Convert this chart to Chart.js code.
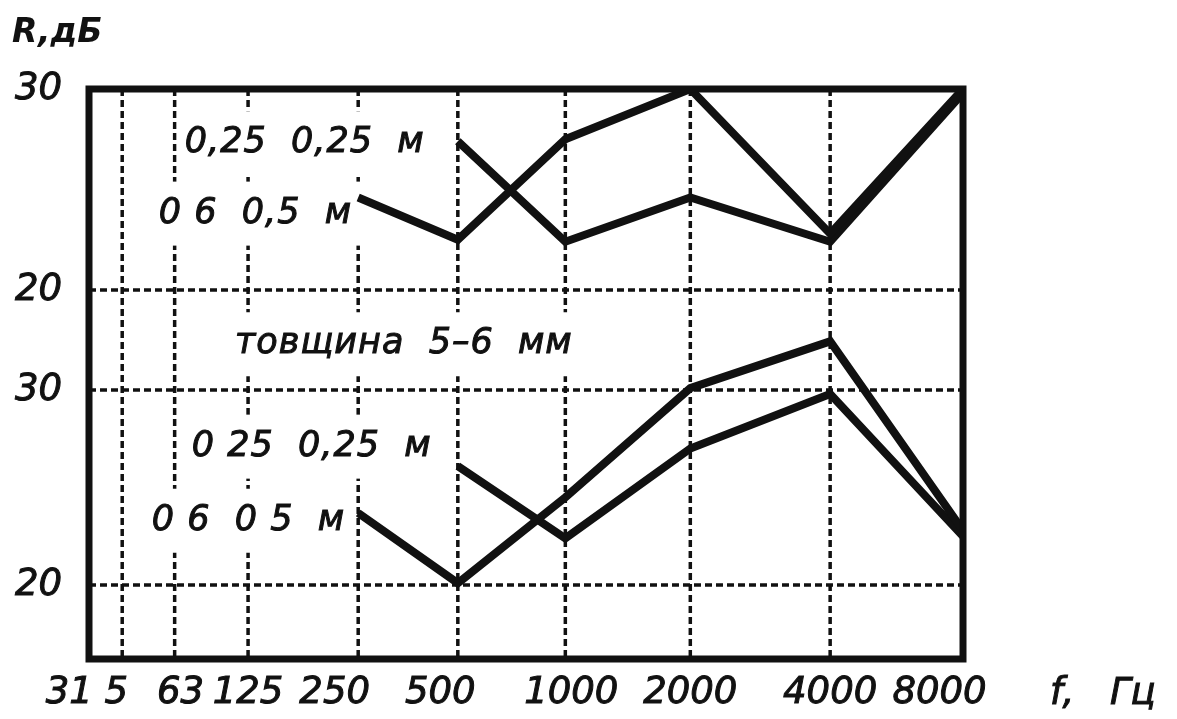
<!DOCTYPE html>
<html lang="uk">
<head>
<meta charset="utf-8">
<title>R, дБ</title>
<script src="https://cdn.jsdelivr.net/npm/chart.js@4.4.0/dist/chart.umd.min.js"></script>
<style>
  html, body { margin: 0; padding: 0; background: #fff; }
  #wrap { position: relative; width: 1177px; height: 719px; }
</style>
</head>
<body>
<div id="wrap"><canvas id="chart" width="1177" height="719"></canvas></div>
<script>
// частоти (Гц) - підписи осі x
const freqLabels = ['31 5', '63', '125', '250', '500', '1000', '2000', '4000', '8000'];
// місце кожної частоти на осі x, % ширини поля (в оригіналі вісь нерівномірна)
const freqPos = [3.8, 9.8, 18.2, 30.8, 42.2, 54.5, 68.8, 84.8, 100];

// верхній графік, R дБ
const top06 = [null, null, null, 24.6, 22.5, 27.5, 30.0, 22.8, 30.0];   // 0,6 x 0,5 м
const top025 = [null, null, null, null, 27.4, 22.4, 24.6, 22.4, 29.8];  // 0,25 x 0,25 м
// нижній графік (товщина 5-6 мм), R дБ
const bot06 = [null, null, null, 23.7, 20.1, 24.5, 30.1, 32.5, 22.8];
const bot025 = [null, null, null, null, 26.1, 22.4, 27.0, 29.8, 22.5];

// поділки осі y для кожного з двох графіків
const yTickValues = [30, 20];
const yTickLabels = ['30', '20'];

// діапазони двох осей y (верхня і нижня частини рисунка)
const TOP_MIN = 1.64, TOP_MAX = 30;
const BOT_MIN = 16.21, BOT_MAX = 45.44;
const botToTop = v => TOP_MIN + (v - BOT_MIN) / (BOT_MAX - BOT_MIN) * (TOP_MAX - TOP_MIN);

const FONT = '"DejaVu Sans", sans-serif';
const INK = '#111';

// підписи всередині поля (з білою підкладкою)
const notes = [
    { text: '0,25  0,25  м', scale: 'y', x: 38.4, y: 27.3, align: 'right' },
    { text: '0 6  0,5  м', scale: 'y', x: 30.1, y: 23.8, align: 'right' },
    { text: 'товщина  5–6  мм', scale: 'y', x: 16.7, y: 17.3, align: 'left' },
    { text: '0 25  0,25  м', scale: 'y2', x: 39.2, y: 27.1, align: 'right' },
    { text: '0 6  0 5  м', scale: 'y2', x: 29.3, y: 23.3, align: 'right' }
];

// зсув підписів осі x (у пробілах): <0 - ліворуч, >0 - праворуч
const labelNudge = [-6, 1, 0, -4, -3, 1, 0, 0, -4];

const toPoints = arr => arr.map((v, i) => ({ x: freqPos[i], y: v }));

// сітка пунктиром + підписи
const gridPlugin = {
    id: 'dashGrid',
    beforeDatasetsDraw(chart) {
        const { ctx, chartArea: a, scales } = chart;
        ctx.save();
        ctx.strokeStyle = INK;
        ctx.lineWidth = 3.5;
        ctx.setLineDash([7, 4]);
        scales.x.ticks.forEach(t => {
            const px = scales.x.getPixelForValue(t.value);
            ctx.beginPath();
            ctx.moveTo(px, a.top);
            ctx.lineTo(px, a.bottom);
            ctx.stroke();
        });
        scales.y.ticks.forEach(t => {
            const py = scales.y.getPixelForValue(t.value);
            ctx.beginPath();
            ctx.moveTo(a.left, py);
            ctx.lineTo(a.right, py);
            ctx.stroke();
        });
        ctx.setLineDash([]);

        ctx.font = 'italic 35px ' + FONT;
        ctx.letterSpacing = '1px';
        ctx.textBaseline = 'middle';
        ctx.lineWidth = 1;
        notes.forEach(n => {
            const px = scales.x.getPixelForValue(n.x);
            const py = scales[n.scale].getPixelForValue(n.y);
            const w = ctx.measureText(n.text).width;
            const x0 = n.align === 'right' ? px - w : px;
            ctx.fillStyle = '#fff';
            ctx.fillRect(x0 - 8, py - 32, w + 16, 64);
            ctx.fillStyle = INK;
            ctx.textAlign = 'left';
            ctx.fillText(n.text, x0, py);
            ctx.strokeText(n.text, x0, py);
        });
        ctx.restore();
    },
    afterDatasetsDraw(chart) {
        const { ctx, chartArea: a } = chart;
        ctx.save();
        ctx.strokeStyle = INK;
        ctx.lineWidth = 7;
        ctx.strokeRect(a.left, a.top, a.right - a.left, a.bottom - a.top);
        ctx.restore();
    },
    afterDraw(chart) {
        const { ctx, chartArea: a } = chart;
        ctx.save();
        ctx.fillStyle = INK;
        ctx.textBaseline = 'middle';
        ctx.textAlign = 'left';
        ctx.font = 'italic bold 33px ' + FONT;
        ctx.fillText('R,дБ', 12, 33);
        ctx.font = 'italic 37px ' + FONT;
        ctx.strokeStyle = INK;
        ctx.lineWidth = 1;
        ctx.fillText('f,', a.right + 87, 694);
        ctx.strokeText('f,', a.right + 87, 694);
        ctx.fillText('Гц', a.right + 147, 694);
        ctx.strokeText('Гц', a.right + 147, 694);
        ctx.restore();
    }
};

const lineStyle = {
    borderColor: INK,
    borderWidth: 8,
    borderJoinStyle: 'miter',
    pointRadius: 0,
    tension: 0,
    spanGaps: false
};

const tickFont = { family: FONT, size: 37, style: 'italic' };

new Chart(document.getElementById('chart'), {
    type: 'line',
    data: {
        datasets: [
            { label: '0,6 x 0,5 м', data: toPoints(top06), yAxisID: 'y', ...lineStyle },
            { label: '0,25 x 0,25 м', data: toPoints(top025), yAxisID: 'y', ...lineStyle },
            { label: '0,6 x 0,5 м (5-6 мм)', data: toPoints(bot06), yAxisID: 'y2', ...lineStyle },
            { label: '0,25 x 0,25 м (5-6 мм)', data: toPoints(bot025), yAxisID: 'y2', ...lineStyle }
        ]
    },
    options: {
        responsive: false,
        animation: false,
        layout: { padding: { left: 0, top: 89, right: 214, bottom: 0 } },
        plugins: {
            legend: { display: false },
            tooltip: { enabled: false }
        },
        scales: {
            x: {
                type: 'linear',
                min: 0,
                max: 100,
                grid: { display: false },
                border: { display: false },
                afterFit: s => { s.height = 60; },
                afterBuildTicks: s => { s.ticks = freqPos.map(v => ({ value: v })); },
                ticks: {
                    autoSkip: false,
                    maxRotation: 0,
                    padding: 4,
                    color: INK,
                    textStrokeColor: INK,
                    textStrokeWidth: 1,
                    font: tickFont,
                    callback: (v, i) => {
                        const n = labelNudge[i];
                        return n < 0 ? freqLabels[i] + ' '.repeat(-n) : ' '.repeat(n) + freqLabels[i];
                    }
                }
            },
            y: {
                min: TOP_MIN,
                max: TOP_MAX,
                grid: { display: false },
                border: { display: false },
                afterFit: s => { s.width = 89; },
                afterBuildTicks: s => {
                    s.ticks = [...yTickValues.map(botToTop), ...yTickValues].sort((a, b) => a - b).map(v => ({ value: v }));
                },
                ticks: {
                    padding: 19,
                    color: INK,
                    textStrokeColor: INK,
                    textStrokeWidth: 1,
                    font: tickFont,
                    callback: (v, i) => {
                        // знизу вгору: нижній 20, нижній 30, верхній 20, верхній 30
                        const k = yTickValues.length - 1 - (i % yTickValues.length);
                        return yTickLabels[k];
                    }
                }
            },
            y2: {
                display: false,
                min: BOT_MIN,
                max: BOT_MAX
            }
        }
    },
    plugins: [gridPlugin]
});
</script>
</body>
</html>
